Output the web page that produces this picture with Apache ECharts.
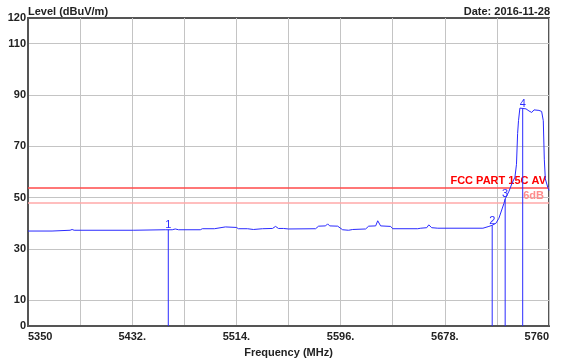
<!DOCTYPE html>
<html>
<head>
<meta charset="utf-8">
<script src="https://cdn.jsdelivr.net/npm/echarts@6/dist/echarts.min.js"></script>
<style>
html,body{margin:0;padding:0;background:#fff;}
#c{width:561px;height:363px;}
</style>
</head>
<body>
<div id="c"></div>
<script>
// ---- data ----
const freqStart = 5350;
const freqEnd = 5760;
const freqMHz = [5350, 5368.9, 5369.7, 5383.1, 5384.7, 5386.3, 5432.8, 5433.6, 5458.0, 5463.5, 5465.9, 5468.5,
  5485.6, 5487.2, 5496.7, 5498.2, 5505.3, 5514.0, 5515.6, 5522.7, 5524.2, 5527.4, 5534.5, 5542.4, 5544.8,
  5547.1, 5551.1, 5555.0, 5576.3, 5578.7, 5584.2, 5585.8, 5587.4, 5593.7, 5597.6, 5602.3, 5605.5, 5615.7,
  5618.1, 5623.6, 5625.2, 5627.5, 5635.4, 5637.0, 5656.7, 5659.1, 5663.8, 5665.4, 5667.7, 5672.5, 5708.0,
  5712.7, 5715.1, 5718.2, 5720.6, 5724.5, 5725.5, 5728.5, 5730.8, 5733.2, 5734.4, 5735.3, 5736.0, 5737.1,
  5741.9, 5744.2, 5746.4, 5748.2, 5752.1, 5754.2, 5755.5, 5756.3, 5757.1, 5759.0, 5760];
const levelDbuv = [37.0, 37.0, 37.3, 37.3, 37.6, 37.3, 37.3, 37.5, 37.5, 37.5, 37.8, 37.5,
  37.5, 37.9, 37.9, 38.4, 38.6, 38.4, 37.9, 37.9, 37.5, 37.6, 37.9, 38.0, 38.8,
  38.0, 38.0, 37.8, 37.9, 38.9, 39.0, 39.8, 39.0, 38.9, 37.5, 37.3, 37.6, 37.8,
  38.9, 39.0, 41.0, 39.0, 38.8, 37.9, 37.9, 38.1, 38.3, 39.4, 38.3, 38.1, 38.1,
  38.8, 39.2, 40.0, 42.0, 47.7, 49.5, 52.5, 55.5, 58.0, 63.0, 75.0, 80.0, 84.9,
  84.6, 83.8, 83.2, 84.2, 84.0, 83.6, 80.0, 65.0, 57.3, 54.1, 52.8];
const markerNames = ['1', '2', '3', '4'];
const markerFreq = [5460.4, 5715.3, 5725.5, 5739.3];
const markerLevel = [37.5, 39.2, 49.5, 84.8];
const limitLevel = 54;
const limitName = 'FCC PART 15C AV';
const marginLevel = 48;
const marginName = '6dB';
const xTickLabels = ['5350', '5432.', '5514.', '5596.', '5678.', '5760'];
const yTickLabels = [0, 10, 30, 50, 70, 90, 110, 120];

// ---- chart ----
const FONT = 'Liberation Sans, Arial, sans-serif';
const blue = '#2a2aff';
const traceData = freqMHz.map((f, i) => [f - freqStart, levelDbuv[i]]);

const series = [{
  type: 'line',
  data: traceData,
  symbol: 'none',
  silent: true,
  lineStyle: {color: blue, width: 1},
  z: 5,
  markLine: {
    silent: true,
    symbol: 'none',
    animation: false,
    data: [
      {yAxis: limitLevel, lineStyle: {color: '#ff4a4a', width: 1.5, type: 'solid'},
        label: {show: true, position: 'insideEndTop', formatter: limitName, color: '#ff0000',
          fontFamily: FONT, fontWeight: 'bold', fontSize: 11, distance: [3, 1]}},
      {yAxis: marginLevel, lineStyle: {color: '#ffa8a8', width: 1.5, type: 'solid'},
        label: {show: true, position: 'insideEndTop', formatter: marginName, color: '#ff8c8c',
          fontFamily: FONT, fontWeight: 'bold', fontSize: 11, distance: [5, 1]}}
    ]
  }
}];
markerFreq.forEach((f, i) => {
  series.push({
    type: 'line',
    symbol: 'none',
    silent: true,
    z: 6,
    lineStyle: {color: blue, width: 1},
    data: [[f - freqStart, 0], [f - freqStart, markerLevel[i]]],
    markPoint: {
      silent: true,
      animation: false,
      symbol: 'circle',
      symbolSize: 2,
      itemStyle: {color: 'rgba(0,0,0,0)'},
      label: {show: true, position: 'top', distance: -2, color: blue, fontFamily: FONT, fontSize: 11,
        formatter: markerNames[i]},
      data: [{coord: [f - freqStart, markerLevel[i]], value: markerLevel[i]}]
    }
  });
});

const chart = echarts.init(document.getElementById('c'), null, {renderer: 'canvas'});
chart.setOption({
  animation: false,
  backgroundColor: '#ffffff',
  grid: {left: 28, right: 12, top: 18, bottom: 32, show: true, borderColor: '#555', borderWidth: 2},
  graphic: [
    {type: 'text', left: 28, top: 6, style: {text: 'Level (dBuV/m)', font: 'bold 11px ' + FONT, fill: '#222'}},
    {type: 'text', right: 11, top: 6, style: {text: 'Date: 2016-11-28', font: 'bold 11px ' + FONT, fill: '#222'}}
  ],
  xAxis: {
    type: 'value', min: 0, max: freqEnd - freqStart, interval: 41,
    name: 'Frequency (MHz)', nameLocation: 'middle', nameGap: 21,
    nameTextStyle: {fontFamily: FONT, fontWeight: 'bold', fontSize: 11, color: '#222'},
    axisLine: {show: true, lineStyle: {color: '#555', width: 2}},
    axisTick: {show: false},
    splitLine: {show: true, lineStyle: {color: '#c4c4c4', width: 1}},
    axisLabel: {
      margin: 5, fontFamily: FONT, fontWeight: 'bold', fontSize: 11, color: '#222',
      alignMinLabel: 'left', alignMaxLabel: 'right',
      formatter: v => {
        const k = Math.round(v / 82);
        return Math.abs(v - k * 82) < 0.01 ? xTickLabels[k] : '';
      }
    }
  },
  yAxis: {
    type: 'value', min: 0, max: 120, interval: 10,
    axisLine: {show: true, lineStyle: {color: '#555', width: 2}},
    axisTick: {show: false},
    splitLine: {show: true, lineStyle: {color: ['rgba(0,0,0,0)', '#c4c4c4'], width: 1}},
    axisLabel: {
      margin: 2, fontFamily: FONT, fontWeight: 'bold', fontSize: 11, color: '#222',
      formatter: v => yTickLabels.indexOf(Math.round(v)) >= 0 ? String(Math.round(v)) : ''
    }
  },
  series: series
});
</script>
</body>
</html>
